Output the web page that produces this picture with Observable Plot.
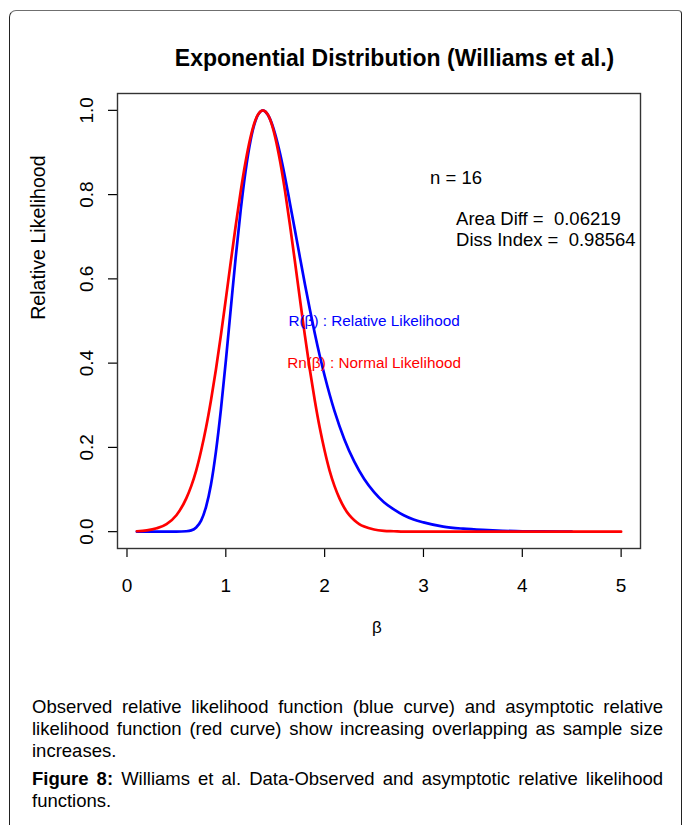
<!DOCTYPE html>
<html>
<head>
<meta charset="utf-8">
<script src="https://cdn.jsdelivr.net/npm/d3@7"></script>
<script src="https://cdn.jsdelivr.net/npm/@observablehq/plot@0.6"></script>
<style>
  html, body { margin: 0; padding: 0; background: #fff; }
  body { font-family: Arial, "Liberation Sans", Helvetica, sans-serif; color: #000; }
  #wrap { position: relative; width: 683px; height: 825px; overflow: hidden; background: #fff; }
  #border { position: absolute; left: 9px; top: 10px; width: 673px; height: 850px;
            border: 1.4px solid #222; border-top-color: #6f6f6f; border-radius: 7px 4px 0 0; box-sizing: border-box; }
  #chart { position: absolute; left: 0; top: 0; }
  #title { position: absolute; left: 0; top: 44px; width: 789px; text-align: center;
           font-size: 23px; font-weight: bold; line-height: 28px; white-space: nowrap; }
  .cap { position: absolute; left: 32px; width: 631px; font-size: 18.5px; line-height: 22px; white-space: nowrap; }
  .just { text-align: justify; text-align-last: justify; white-space: normal; }
</style>
</head>
<body>
<div id="wrap">
  <div id="border"></div>
  <div id="chart"></div>
  <div id="title">Exponential Distribution (Williams et al.)</div>
  <div class="cap just" style="top:696px">Observed relative likelihood function (blue curve) and asymptotic relative</div>
  <div class="cap just" style="top:718px">likelihood function (red curve) show increasing overlapping as sample size</div>
  <div class="cap" style="top:740px">increases.</div>
  <div class="cap just" style="top:768px"><b>Figure 8:</b> Williams et al. Data-Observed and asymptotic relative likelihood</div>
  <div class="cap" style="top:790px">functions.</div>
</div>
<script>
// Observed relative likelihood R(β) (blue curve)
const betaBlue = [0.1, 0.2, 0.3, 0.4, 0.5, 0.6, 0.65, 0.7, 0.75, 0.8, 0.85, 0.9, 0.95, 1.0, 1.05, 1.1, 1.15, 1.2, 1.25, 1.3, 1.35, 1.375, 1.4, 1.45, 1.5, 1.55, 1.6, 1.65, 1.7, 1.75, 1.8, 1.85, 1.9, 1.95, 2.0, 2.1, 2.2, 2.3, 2.4, 2.5, 2.6, 2.7, 2.8, 2.9, 3.0, 3.2, 3.4, 3.6, 3.8, 4.0, 4.2, 4.5];
const relLik   = [0, 0, 0, 0, 0, 0.001, 0.003, 0.010, 0.026, 0.059, 0.112, 0.190, 0.289, 0.405, 0.529, 0.651, 0.762, 0.856, 0.928, 0.975, 0.997, 1.0, 0.997, 0.978, 0.943, 0.896, 0.840, 0.778, 0.715, 0.651, 0.588, 0.528, 0.471, 0.418, 0.370, 0.286, 0.219, 0.166, 0.125, 0.094, 0.070, 0.053, 0.039, 0.029, 0.022, 0.012, 0.007, 0.004, 0.002, 0.001, 0.001, 0.0];

// Asymptotic (normal) relative likelihood Rn(β) (red curve)
const betaRed = [0.1, 0.2, 0.3, 0.4, 0.5, 0.6, 0.65, 0.7, 0.75, 0.8, 0.85, 0.9, 0.95, 1.0, 1.05, 1.1, 1.15, 1.2, 1.25, 1.3, 1.35, 1.375, 1.4, 1.45, 1.5, 1.55, 1.6, 1.65, 1.7, 1.75, 1.8, 1.85, 1.9, 1.95, 2.0, 2.05, 2.1, 2.15, 2.2, 2.25, 2.3, 2.35, 2.4, 2.5, 2.6, 2.7, 2.8, 3.0, 3.5, 4.0, 4.5, 5.0];
const normLik = [0.001, 0.003, 0.008, 0.018, 0.039, 0.079, 0.108, 0.145, 0.192, 0.247, 0.312, 0.385, 0.466, 0.552, 0.640, 0.726, 0.807, 0.878, 0.936, 0.977, 0.997, 1.0, 0.997, 0.977, 0.936, 0.878, 0.807, 0.726, 0.640, 0.552, 0.466, 0.385, 0.312, 0.247, 0.192, 0.145, 0.108, 0.079, 0.056, 0.039, 0.027, 0.018, 0.012, 0.005, 0.002, 0.001, 0, 0, 0, 0, 0, 0];

// Axes
const xTicks = [0, 1, 2, 3, 4, 5];
const yTicks = [0, 0.2, 0.4, 0.6, 0.8, 1.0];
const yTickLabels = ["0.0", "0.2", "0.4", "0.6", "0.8", "1.0"];
const yTitle = "Relative Likelihood";
const xTitle = "\u03b2";

// In-plot annotations (data coordinates)
const statText = ["n = 16", "Area Diff =\u00a0\u00a00.06219", "Diss Index =\u00a0\u00a00.98564"];
const statX = [3.33, 3.33, 3.33];
const statY = [0.84, 0.743, 0.693];
const statAnchor = ["middle", "start", "start"];

const legendText = ["R(\u03b2) : Relative Likelihood", "Rn(\u03b2) : Normal Likelihood"];
const legendX = [2.5, 2.5];
const legendY = [0.5, 0.4];
const legendColor = ["#0000ff", "#ff0000"];

const blue = betaBlue.map((b, i) => ({beta: b, r: relLik[i]}));
const red = betaRed.map((b, i) => ({beta: b, r: normLik[i]}));
const yLab = yTicks.map((v, i) => ({v, t: yTickLabels[i]}));
const stats = statText.map((t, i) => ({t, x: statX[i], y: statY[i], a: statAnchor[i]}));
const legend = legendText.map((t, i) => ({t, x: legendX[i], y: legendY[i], c: legendColor[i]}));

const font = 'Arial, "Liberation Sans", Helvetica, sans-serif';

const plot = Plot.plot({
  width: 683,
  height: 660,
  marginLeft: 117,
  marginRight: 43,
  marginTop: 93,
  marginBottom: 112,
  x: {domain: [-0.096, 5.196]},
  y: {domain: [-0.04, 1.04]},
  style: {fontFamily: font, color: "#000", background: "transparent", overflow: "visible"},
  marks: [
    Plot.axisX({ticks: xTicks, tickSize: 9, tickPadding: 21, fontSize: 19, label: null, tickFormat: d => String(d), strokeWidth: 1.2}),
    Plot.axisY({ticks: yTicks, tickSize: 9, tickFormat: () => "", label: null, strokeWidth: 1.2}),
    Plot.text(yLab, {y: "v", text: "t", frameAnchor: "left", textAnchor: "middle", dx: -31, rotate: -90, fontSize: 19}),
    Plot.text([{t: yTitle, y: 0.698}], {y: "y", text: "t", frameAnchor: "left", textAnchor: "middle", dx: -79, rotate: -90, fontSize: 19.6}),
    Plot.text([xTitle], {text: d => d, frameAnchor: "bottom", dy: 84, dx: -2, fontSize: 17}),
    Plot.line(blue, {x: "beta", y: "r", stroke: "#0000ff", strokeWidth: 2.7, curve: "monotone-x"}),
    Plot.line(red, {x: "beta", y: "r", stroke: "#ff0000", strokeWidth: 2.7, curve: "monotone-x"}),
    Plot.text(stats, {x: "x", y: "y", text: "t", textAnchor: "start", fontSize: 18.5, fill: "#000", filter: d => d.a === "start"}),
    Plot.text(stats, {x: "x", y: "y", text: "t", textAnchor: "middle", fontSize: 18.5, fill: "#000", filter: d => d.a === "middle"}),
    Plot.text(legend, {x: "x", y: "y", text: "t", fill: "c", fontSize: 15.3}),
    Plot.frame({stroke: "#333", strokeWidth: 1.4})
  ]
});
document.getElementById("chart").appendChild(plot);
</script>
</body>
</html>
